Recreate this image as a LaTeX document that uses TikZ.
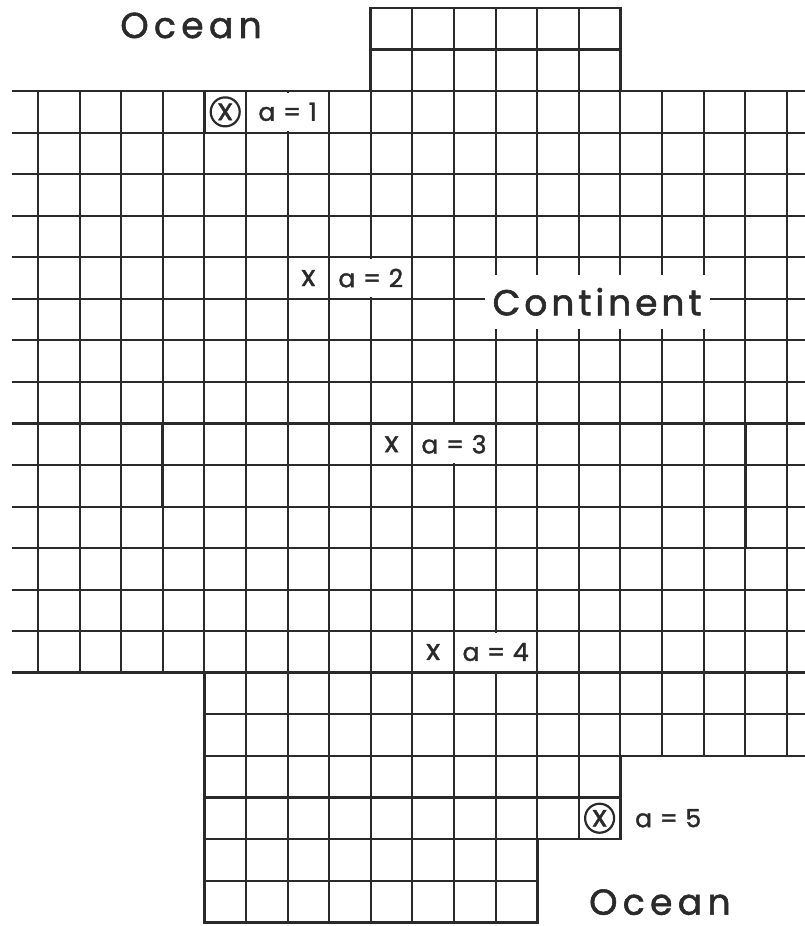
\documentclass[tikz,border=0pt]{standalone}
\usepackage{fontspec}
\setmainfont{Poppins}
\newfontfamily\bigfont[LetterSpace=15,FakeBold=1.6]{Poppins}
\newfontfamily\contfont[LetterSpace=11,FakeBold=1.6]{Poppins}
\newfontfamily\lblfamily[LetterSpace=4,FakeBold=1.4]{Poppins}
\definecolor{ink}{HTML}{2A2A2A}
\begin{document}
\begin{tikzpicture}[x=41.6pt, y=-41.55pt,
  gl/.style={line width=2.1pt, draw=ink},
  bd/.style={line width=2.8pt, draw=ink},
  lab/.style={font=\lblfamily\fontsize{25}{28}\selectfont, text=ink, inner sep=0pt},
  wbox/.style={lab, fill=white, minimum width=79pt, minimum height=38pt},
  xmark/.style={circle, draw=ink, line width=2.2pt, minimum size=29pt, inner sep=0pt, font=\lblfamily\fontsize{30}{30}\selectfont, text=ink},
  big/.style={font=\bigfont\fontsize{36}{40}\selectfont, text=ink, inner sep=0pt}]
\useasboundingbox (-0.9135,-0.1925) rectangle (18.4375,22.0939);
% horizontal grid lines
\foreach \j in {3,...,15} \draw[gl] (-0.625,\j) -- (18.44,\j);
\draw[gl] (8,1) -- (14,1);
\draw[gl] (8,2) -- (14,2);
\draw[gl] (4,17) -- (18.44,17);
\draw[gl] (4,18) -- (14,18);
\draw[gl] (4,19) -- (14,19);
\draw[gl] (4,20) -- (12,20);
\draw[gl] (4,21) -- (12,21);
% vertical grid lines
\foreach \i in {0,...,3} \draw[gl] (\i,2) -- (\i,16);
\foreach \i in {5,...,12} \draw[gl] (\i,2) -- (\i,22);
\foreach \i in {9,...,13} \draw[gl] (\i,0) -- (\i,2);
\draw[gl] (4,2) -- (4,16);
\draw[gl] (13,2) -- (13,20);
\draw[gl] (14,2) -- (14,18);
\foreach \i in {15,...,18} \draw[gl] (\i,2) -- (\i,18);
% boundaries
\draw[bd] (-0.625,2) -- (8,2) -- (8,0) -- (14,0) -- (14,2) -- (18.44,2);
\draw[bd] (-0.625,16) -- (18.44,16);
\draw[bd] (18.44,18) -- (14,18) -- (14,20) -- (12,20) -- (12,22) -- (4,22) -- (4,16);
% heavier strokes
\draw[bd] (4,2) -- (4,3);
\draw[bd] (3,10) -- (3,12);
\draw[bd] (17,10) -- (17,13);
% labels
\node[xmark] (m1) at (4.5,2.5) {x};
\node[wbox] (a1) at (6,2.5) {a = 1};
\node[lab, font=\lblfamily\fontsize{29}{30}\selectfont] (x2) at (6.5,6.5) {x};
\node[wbox] (a2) at (8,6.5) {a = 2};
\node[lab, font=\lblfamily\fontsize{29}{30}\selectfont] (x3) at (8.5,10.5) {x};
\node[wbox] (a3) at (10,10.5) {a = 3};
\node[lab, font=\lblfamily\fontsize{29}{30}\selectfont] (x4) at (9.5,15.5) {x};
\node[wbox] (a4) at (11,15.5) {a = 4};
\node[xmark] (m5) at (13.5,19.5) {x};
\node[lab, anchor=west] (a5) at (14.35,19.5) {a = 5};
\node[big, font=\contfont\fontsize{36}{40}\selectfont, fill=white, minimum width=225pt, minimum height=54pt] (cont) at (13.44,7.07) {Continent};
\node[big] (ocean1) at (3.68,0.42) {Ocean};
\node[big] (ocean2) at (14.95,21.52) {Ocean};
\end{tikzpicture}
\end{document}
